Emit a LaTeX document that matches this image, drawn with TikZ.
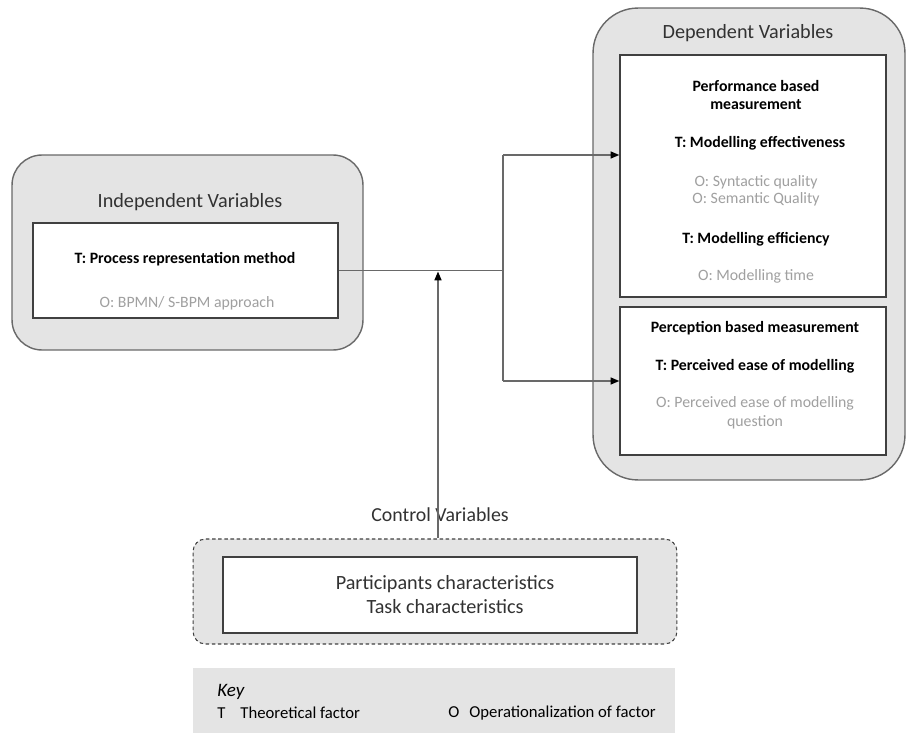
\documentclass[tikz,border=0pt]{standalone}
\usepackage{fontspec}
\setmainfont{Carlito}
\usetikzlibrary{positioning, arrows.meta, calc}
\definecolor{boxgray}{RGB}{228, 228, 228}
\definecolor{linegray}{RGB}{105, 105, 105}
\definecolor{textgray}{RGB}{160, 160, 160}
\definecolor{titlegray}{RGB}{50, 50, 50}

\begin{document}
\begin{tikzpicture}[x=0.02cm, y=-0.02cm,
    outer/.style={draw=linegray, fill=boxgray, thick, inner sep=0pt},
    inbox/.style={draw=black!75, fill=white, thick, inner sep=0pt},
    title/.style={text=titlegray, font=\fontsize{11.5}{13.6}\selectfont, align=center},
    tfac/.style={font=\bfseries\fontsize{9}{9.8}\selectfont, align=center, inner sep=0pt},
    ofac/.style={text=textgray, font=\fontsize{9}{9.8}\selectfont, align=center, inner sep=0pt},
    conn/.style={draw=linegray, thick},
    arrow/.style={conn, -{Triangle[length=5pt, width=4pt, color=black]}}]
\useasboundingbox (0,0) rectangle (909,733);

% independent variables
\node[outer, rounded corners=0.6cm, minimum width=7.02cm, minimum height=3.9cm] (indout) at (187.5,252.5) {};
\node[title] (indtitle) at (190,202) {Independent Variables};
\node[inbox, minimum width=6.1cm, minimum height=1.9cm] (indin) at (185.5,270.5) {};
\node[tfac] (indT) at (185,259) {T: Process representation method};
\node[ofac] (indO) at (187,303) {O: BPMN/ S-BPM approach};

% dependent variables
\node[outer, rounded corners=0.9cm, minimum width=6.24cm, minimum height=9.44cm] (depout) at (749,244) {};
\node[title] (deptitle) at (748,33) {Dependent Variables};
\node[inbox, minimum width=5.32cm, minimum height=4.84cm] (perf) at (753,176) {};
\node[inbox, minimum width=5.32cm, minimum height=2.96cm] (perc) at (753,381) {};
\node[tfac] (perfhead) at (756,95) {Performance based\\measurement};
\node[tfac] (effect) at (760,143) {T: Modelling effectiveness};
\node[ofac] (quality) at (756,190.5) {O: Syntactic quality\\O: Semantic Quality};
\node[tfac] (effic) at (756,239) {T: Modelling efficiency};
\node[ofac] (mtime) at (756,276) {O: Modelling time};
\node[tfac] (perchead) at (755,328) {Perception based measurement};
\node[tfac] (ease) at (755,366) {T: Perceived ease of modelling};
\node[ofac, font=\fontsize{9}{10.8}\selectfont] (easeq) at (755,413) {O: Perceived ease of modelling\\question};

% control variables
\node[outer, draw=black!75, line width=0.6pt, dash pattern=on 2pt off 1.5pt, rounded corners=0.25cm, minimum width=9.68cm, minimum height=2.1cm] (ctrlout) at (435,591.5) {};
\node[inbox, minimum width=8.28cm, minimum height=1.52cm] (ctrlin) at (430,595) {};
\node[title] (ctrltext) at (445,595) {Participants characteristics\\Task characteristics};
\node[title, font=\fontsize{11.3}{13}\selectfont] (ctrltitle) at (440,515) {Control Variables};

% key
\node[fill=boxgray, inner sep=0pt, minimum width=9.64cm, minimum height=1.3cm] (key) at (434,700.5) {};
\node[anchor=west, inner sep=0pt, font=\itshape\fontsize{10.8}{12}\selectfont] (keyhead) at (217,692) {Key};
\node[anchor=west, inner sep=0pt, font=\fontsize{9.5}{10}\selectfont] (keyT) at (217,713) {T\hspace{0.9em}Theoretical factor};
\node[anchor=west, inner sep=0pt, font=\fontsize{9.5}{10}\selectfont] (keyO) at (448,713) {O\hspace{0.6em}Operationalization of factor};

% connectors
\coordinate (split) at (503,270.5);
\coordinate (top) at (503,155);
\coordinate (bot) at (503,381);
\draw[conn] (indin.east) -- (split);
\draw[conn] (top) -- (bot);
\draw[arrow] (top) -- (top -| perf.west);
\draw[arrow] (bot) -- (perc.west);
\draw[arrow] ($(ctrlout.north)+(3,0)$) -- ($(ctrlout.north |- split)+(3,1)$);
\end{tikzpicture}
\end{document}
